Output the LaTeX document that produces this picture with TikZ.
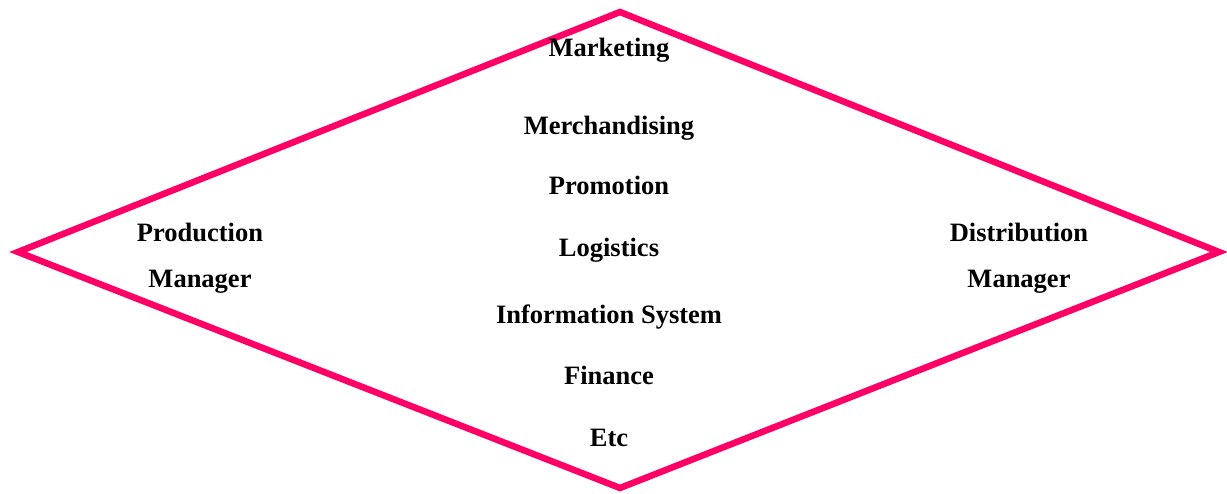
\documentclass[tikz,border=0pt]{standalone}
\usepackage{fontspec}
\setmainfont{Liberation Serif}
\definecolor{diamondpink}{HTML}{FF0066}
\begin{document}
\begin{tikzpicture}[x=1pt,y=1pt,
  lbl/.style={inner sep=0pt,anchor=base,font=\fontsize{26.5}{30}\selectfont\bfseries},
  frame/.style={draw=diamondpink,line width=6.5pt,line join=miter}]
\useasboundingbox (0,0) rectangle (1227,494);
% outline of the diamond
\coordinate (top) at (620,482);
\coordinate (right) at (1219,242);
\coordinate (bottom) at (620,6);
\coordinate (left) at (18,242);
\draw[frame] (top) -- (right) -- (bottom) -- (left) -- cycle;
% central column of functions
\node[lbl] (marketing) at (609,437) {Marketing};
\node[lbl] (merch) at (609,359) {Merchandising};
\node[lbl] (promo) at (609,299) {Promotion};
\node[lbl] (logist) at (609,237) {Logistics};
\node[lbl] (infosys) at (609,170) {Information System};
\node[lbl] (finance) at (609,109) {Finance};
\node[lbl] (etc) at (609,47) {Etc};
% managers at the side corners
\node[lbl] (prod1) at (200,252) {Production};
\node[lbl] (prod2) at (200,206) {Manager};
\node[lbl] (dist1) at (1019,252) {Distribution};
\node[lbl] (dist2) at (1019,206) {Manager};
\end{tikzpicture}
\end{document}
